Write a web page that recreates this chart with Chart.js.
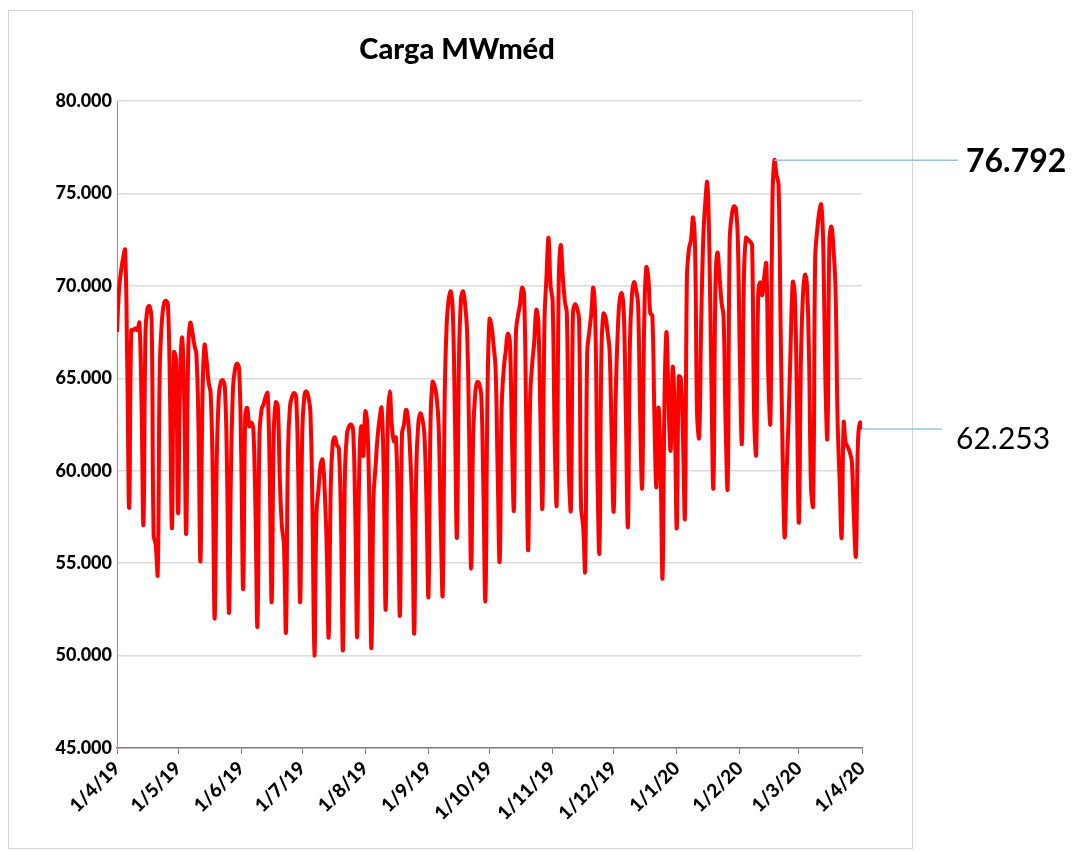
<!DOCTYPE html>
<html><head><meta charset="utf-8">
<script src="https://cdn.jsdelivr.net/npm/chart.js@4/dist/chart.umd.min.js"></script>
<style>html,body{margin:0;padding:0;background:#fff;}#wrap{width:1076px;height:851px;position:relative;}</style>
</head><body><div id="wrap"><canvas id="c" width="1076" height="851"></canvas></div>
<script>
// Daily load (MWmed), 1/4/19 (day 0) .. 1/4/20 (day 366)
const loadMW = [
67500,69800,70800,71500,71950,66000,58000,
67600,67600,67700,67600,68000,64000,57100,
67500,68800,68900,68200,56500,56000,54400,
65500,68000,69000,69200,69000,64500,56900,
66400,66000,57700,65000,67200,64000,56600,
66500,68000,67500,66800,66300,62500,55100,
64000,66800,66000,64800,64200,60000,52000,
60500,64000,64800,64900,64500,60500,52300,
60000,64500,65500,65800,65500,61000,53600,
63000,63400,62400,62600,62200,58000,51600,
62000,63300,63600,64000,64200,60000,52900,
62000,63700,63500,59500,57000,56000,51300,
61000,63500,64000,64200,64000,60000,52900,
62000,64000,64300,64000,63200,58000,50000,
57700,59000,60300,60600,59000,56000,51000,
59000,61500,61800,61400,61200,57500,50300,
60000,62000,62400,62500,62200,58000,51000,
60000,62400,60800,63200,62500,58000,50400,
58500,60200,61800,62800,63400,60000,52500,
62500,64300,62500,61600,61800,58000,52200,
62000,62500,63300,62800,61000,58000,51200,
60000,62500,63100,62800,62000,58500,53200,
62500,64800,64600,64000,62500,57500,53300,
64000,68000,69300,69700,68500,63000,56400,
66000,69300,69700,69000,67500,62000,54700,
62000,64200,64800,64700,64000,59000,53000,
64000,68200,67800,66800,65500,60000,55100,
63500,65500,66500,67400,67000,62000,57900,
67500,68400,69000,69900,69500,63000,55700,
64000,65800,67000,68700,68000,63000,58000,
68000,70500,72600,70000,69200,62000,58200,
70000,72200,70500,69200,68500,60000,57900,
68500,69000,68800,68200,58000,57000,54600,
66400,67500,68500,69900,68000,60000,55600,
66500,68500,68300,67500,66500,62000,57800,
64000,67500,69300,69600,68500,63000,57000,
67000,69500,70200,69800,69000,63000,59100,
68000,71000,70500,68500,68400,63000,59100,
63400,60500,54200,64000,67500,63500,61100,
65600,63000,56900,65100,65000,62000,57500,
70500,72000,72500,73700,72000,63000,61800,
68000,72500,74500,75600,72000,65000,59100,
70000,71800,70500,69100,68300,62500,59100,
72500,73800,74300,74200,72500,66000,61500,
70500,72600,72500,72400,72200,63000,60900,
69500,70200,69500,70500,71200,65000,62600,
74500,76792,76000,75500,68000,61000,56400,
60000,63000,67000,70200,69500,64000,57200,
66000,69500,70600,70000,66000,59000,58100,
71500,73000,74000,74400,72000,65000,61800,
72500,73200,72000,69800,62800,59500,56400,
62600,61500,61300,61000,60500,57500,55400,
61500,62600,62253
];
const tickDays = [0,30,61,91,122,153,183,214,244,275,306,335,366];
const tickLabels = ['1/4/19','1/5/19','1/6/19','1/7/19','1/8/19','1/9/19','1/10/19','1/11/19','1/12/19','1/1/20','1/2/20','1/3/20','1/4/20'];
const yMin = 45000, yMax = 80000, yStep = 5000;
const chartTitle = 'Carga MWméd';

function fmt(v){ return Math.round(v).toString().replace(/\B(?=(\d{3})+(?!\d))/g,'.'); }

const pts = loadMW.map((v,i)=>({x:i,y:v}));

const decor = {
  id:'decor',
  beforeDraw(chart){
    const c = chart.ctx;
    c.save();
    c.fillStyle='#fff'; c.fillRect(0,0,chart.width,chart.height);
    c.strokeStyle='#d4d4d4'; c.lineWidth=1;
    c.strokeRect(8.5,10.5,904,838);
    c.fillStyle='#000'; c.font='900 29px Lato'; c.textAlign='center'; c.textBaseline='middle';
    c.fillText(chartTitle,457,50);
    c.restore();
  },
  afterDatasetsDraw(chart){
    const meta = chart.getDatasetMeta(0);
    const c = chart.ctx;
    let mi = 0;
    loadMW.forEach((v,i)=>{ if(v>loadMW[mi]) mi=i; });
    const li = loadMW.length-1;
    const pm = meta.data[mi], pl = meta.data[li];
    c.save();
    c.strokeStyle='#9cc3da'; c.lineWidth=1.5;
    c.beginPath(); c.moveTo(pm.x,pm.y); c.lineTo(958,pm.y); c.stroke();
    c.beginPath(); c.moveTo(pl.x,pl.y); c.lineTo(942,pl.y); c.stroke();
    c.fillStyle='#000'; c.textAlign='left'; c.textBaseline='middle';
    c.font='bold 32px Lato'; c.fillText(fmt(loadMW[mi]),966,pm.y+1);
    c.font='30px Lato'; c.fillText(fmt(loadMW[li]),956,pl.y+10);
    c.restore();
  }
};

new Chart(document.getElementById('c'),{
  type:'line',
  data:{datasets:[{data:pts,borderColor:'#ff0000',borderWidth:4,pointRadius:0,tension:0.4,fill:false}]},
  options:{
    responsive:false,animation:false,devicePixelRatio:1,
    layout:{padding:{top:101,right:214,left:0,bottom:0}},
    plugins:{legend:{display:false},tooltip:{enabled:false},title:{display:false}},
    scales:{
      x:{type:'linear',min:0,max:366,
        afterBuildTicks(s){ s.ticks = tickDays.map(v=>({value:v})); },
        afterFit(s){ s.height = 103; },
        ticks:{autoSkip:false,minRotation:45,maxRotation:45,color:'#000',font:{family:'Lato',weight:'900',size:19},
          callback(v){ const k=tickDays.indexOf(v); return k>=0?tickLabels[k]:''; }},
        grid:{drawOnChartArea:false,drawTicks:true,tickLength:6,color:'#808080'},
        border:{color:'#808080',width:1.5}
      },
      y:{min:yMin,max:yMax,
        afterFit(s){ s.width = 117; },
        ticks:{stepSize:yStep,color:'#000',padding:5,font:{family:'Lato',weight:'900',size:18},callback(v){return fmt(v);}},
        grid:{color:'#dcdcdc',drawTicks:false,lineWidth:1.5},
        border:{color:'#f07070',width:1}
      }
    }
  },
  plugins:[decor]
});
</script></body></html>
